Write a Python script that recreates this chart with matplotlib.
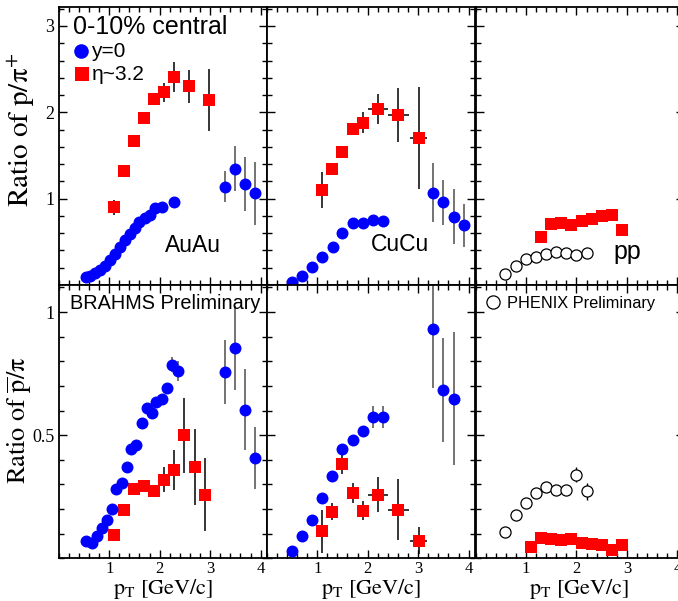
import matplotlib
matplotlib.use("Agg")
import matplotlib.pyplot as plt
from matplotlib.ticker import MultipleLocator

# ---- top row: p/pi+ ----
au_y0_pt = [0.54, 0.62, 0.72, 0.81, 0.91, 1.01, 1.11, 1.21, 1.31, 1.41, 1.51, 1.60, 1.70, 1.80, 1.90, 2.05, 2.29,
            3.29, 3.49, 3.69, 3.89]
au_y0_r = [0.095, 0.107, 0.134, 0.17, 0.215, 0.29, 0.36, 0.435, 0.52, 0.59, 0.655, 0.73, 0.775, 0.81, 0.89, 0.90, 0.96,
           1.14, 1.345, 1.17, 1.06]
au_y0_err = [0] * 17 + [0.18, 0.26, 0.31, 0.37]

au_eta_pt = [1.10, 1.29, 1.49, 1.69, 1.89, 2.09, 2.29, 2.59, 2.98]
au_eta_r = [0.90, 1.32, 1.665, 1.93, 2.15, 2.23, 2.41, 2.30, 2.14]
au_eta_err = [0.09, 0, 0, 0, 0, 0.11, 0.17, 0.19, 0.36]
au_eta_xerr = [0, 0, 0, 0, 0, 0, 0, 0.1, 0.1]

cu_y0_pt = [0.50, 0.70, 0.90, 1.10, 1.31, 1.50, 1.71, 1.91, 2.11, 2.31, 3.30, 3.50, 3.71, 3.91]
cu_y0_r = [0.04, 0.107, 0.21, 0.32, 0.445, 0.60, 0.72, 0.72, 0.75, 0.745, 1.07, 0.96, 0.79, 0.69]
cu_y0_err = [0] * 10 + [0.34, 0.26, 0.32, 0.25]

cu_eta_pt = [1.10, 1.30, 1.50, 1.70, 1.91, 2.20, 2.61, 3.01]
cu_eta_r = [1.10, 1.34, 1.545, 1.81, 1.88, 2.04, 1.97, 1.70]
cu_eta_err = [0.21, 0, 0, 0.05, 0.125, 0.17, 0.31, 0.59]
cu_eta_xerr = [0, 0, 0, 0, 0, 0.2, 0.2, 0.17]

pp_phenix_pt = [0.59, 0.80, 1.00, 1.20, 1.40, 1.60, 1.80, 2.00, 2.20]
pp_phenix_r = [0.13, 0.215, 0.30, 0.33, 0.36, 0.385, 0.37, 0.35, 0.375]

pp_eta_pt = [1.3, 1.5, 1.7, 1.9, 2.1, 2.3, 2.5, 2.7, 2.9]
pp_eta_r = [0.56, 0.71, 0.72, 0.70, 0.74, 0.77, 0.80, 0.81, 0.64]

# ---- bottom row: pbar/pi- ----
au_y0_pt_b = [0.55, 0.66, 0.75, 0.85, 0.95, 1.05, 1.14, 1.25, 1.35, 1.44, 1.54, 1.65, 1.74, 1.85, 1.93, 2.04, 2.14,
              2.25, 2.36, 3.29, 3.49, 3.69, 3.89]
au_y0_r_b = [0.069, 0.063, 0.09, 0.124, 0.157, 0.20, 0.282, 0.304, 0.37, 0.442, 0.462, 0.55, 0.611, 0.591, 0.634,
             0.645, 0.693, 0.787, 0.76, 0.756, 0.855, 0.604, 0.408]
au_y0_err_b = [0] * 17 + [0.03, 0.04, 0.13, 0.17, 0.165, 0.127]

au_eta_pt_b = [1.10, 1.29, 1.49, 1.69, 1.89, 2.09, 2.29, 2.49, 2.69, 2.89]
au_eta_r_b = [0.093, 0.198, 0.282, 0.293, 0.272, 0.32, 0.358, 0.499, 0.37, 0.259]
au_eta_err_b = [0, 0, 0, 0.02, 0.025, 0.05, 0.08, 0.153, 0.155, 0.149]

cu_y0_pt_b = [0.50, 0.70, 0.90, 1.10, 1.30, 1.50, 1.70, 1.91, 2.11, 2.31, 3.30, 3.50, 3.71]
cu_y0_r_b = [0.028, 0.092, 0.154, 0.243, 0.336, 0.445, 0.48, 0.516, 0.573, 0.573, 0.932, 0.684, 0.649]
cu_y0_err_b = [0] * 8 + [0.044, 0.044, 0.24, 0.212, 0.27]

cu_eta_pt_b = [1.10, 1.30, 1.50, 1.70, 1.91, 2.20, 2.61, 3.01]
cu_eta_r_b = [0.11, 0.19, 0.381, 0.266, 0.194, 0.259, 0.198, 0.072]
cu_eta_err_b = [0.087, 0.035, 0.04, 0.04, 0.04, 0.07, 0.123, 0.056]
cu_eta_xerr_b = [0, 0, 0, 0, 0, 0.2, 0.2, 0.17]

pp_phenix_pt_b = [0.59, 0.80, 1.00, 1.20, 1.40, 1.60, 1.80, 2.00, 2.20]
pp_phenix_r_b = [0.107, 0.174, 0.225, 0.266, 0.29, 0.276, 0.276, 0.34, 0.272]
pp_phenix_err_b = [0, 0, 0, 0, 0, 0, 0, 0.03, 0.035]

pp_eta_pt_b = [1.1, 1.3, 1.5, 1.7, 1.9, 2.1, 2.3, 2.5, 2.7, 2.9]
pp_eta_r_b = [0.047, 0.081, 0.079, 0.076, 0.08, 0.064, 0.059, 0.052, 0.035, 0.054]

BLUE = "#0000ff"
RED = "#ff0000"

plt.rcParams["font.family"] = ["Liberation Serif", "DejaVu Serif"]
plt.rcParams["mathtext.fontset"] = "stix"

W, H = 678, 601
fig = plt.figure(figsize=(W / 100, H / 100), dpi=100)

col_left = [58.7, 266.7, 475.5]
col_w = 208.0
rows = [(7, 285), (285, 558.3)]

axes = []
for r, (ytop, ybot) in enumerate(rows):
    row = []
    for c, x0 in enumerate(col_left):
        ax = fig.add_axes([x0 / W, 1 - ybot / H, col_w / W, (ybot - ytop) / H])
        ax.set_xlim(0, 4.12)
        if r == 0:
            ax.set_ylim(0, 3.22)
            ax.set_yticks([1, 2, 3])
            ax.yaxis.set_minor_locator(MultipleLocator(0.2))
        else:
            ax.set_ylim(0, 1.11)
            ax.set_yticks([0.5, 1.0])
            ax.set_yticklabels(["0.5", "1"])
            ax.yaxis.set_minor_locator(MultipleLocator(0.1))
        ax.set_xticks([1, 2, 3, 4])
        ax.xaxis.set_minor_locator(MultipleLocator(0.2))
        ax.tick_params(which="both", direction="in", top=True, right=True, width=1.0)
        ax.tick_params(which="major", length=6)
        ax.tick_params(which="minor", length=3.5)
        ax.tick_params(axis="y", labelsize=13, pad=3)
        ax.tick_params(axis="x", labelsize=12, pad=2)
        if r == 0:
            ax.tick_params(labelbottom=False)
        if c > 0:
            ax.tick_params(labelleft=False)
        for s in ax.spines.values():
            s.set_linewidth(1.3)
        row.append(ax)
    axes.append(row)


def pts(ax, x, y, color, marker, yerr=None, xerr=None, ecolor="black", ms=8.6):
    if yerr is not None or xerr is not None:
        ax.errorbar(x, y, yerr=yerr, xerr=xerr, fmt="none", ecolor=ecolor, elinewidth=1.1, capsize=0, zorder=2)
    ax.plot(x, y, linestyle="none", marker=marker, color=color, markersize=ms, markeredgewidth=0, zorder=3)


def open_pts(ax, x, y, yerr=None):
    if yerr is not None:
        ax.errorbar(x, y, yerr=yerr, fmt="none", ecolor="black", elinewidth=1.0, capsize=0, zorder=2)
    ax.plot(x, y, linestyle="none", marker="o", markerfacecolor="white", markeredgecolor="black",
            markersize=8.0, markeredgewidth=0.9, zorder=3)


# top row
ax = axes[0][0]
pts(ax, au_eta_pt, au_eta_r, RED, "s", yerr=au_eta_err, xerr=au_eta_xerr, ms=9)
pts(ax, au_y0_pt, au_y0_r, BLUE, "o", yerr=au_y0_err, ecolor="0.3")
ax = axes[0][1]
pts(ax, cu_eta_pt, cu_eta_r, RED, "s", yerr=cu_eta_err, xerr=cu_eta_xerr, ms=9)
pts(ax, cu_y0_pt, cu_y0_r, BLUE, "o", yerr=cu_y0_err, ecolor="0.3")
ax = axes[0][2]
pts(ax, pp_eta_pt, pp_eta_r, RED, "s", ms=9)
open_pts(ax, pp_phenix_pt, pp_phenix_r)

# bottom row
ax = axes[1][0]
pts(ax, au_eta_pt_b, au_eta_r_b, RED, "s", yerr=au_eta_err_b, ms=9)
pts(ax, au_y0_pt_b, au_y0_r_b, BLUE, "o", yerr=au_y0_err_b, ecolor="0.3")
ax = axes[1][1]
pts(ax, cu_eta_pt_b, cu_eta_r_b, RED, "s", yerr=cu_eta_err_b, xerr=cu_eta_xerr_b, ms=9)
pts(ax, cu_y0_pt_b, cu_y0_r_b, BLUE, "o", yerr=cu_y0_err_b, ecolor="0.3")
ax = axes[1][2]
pts(ax, pp_eta_pt_b, pp_eta_r_b, RED, "s", ms=9)
open_pts(ax, pp_phenix_pt_b, pp_phenix_r_b, yerr=pp_phenix_err_b)

for ax in axes[1]:
    ax.set_xlabel(r"$\rm p_{T}\ [GeV/c]$", fontsize=16, labelpad=0)

sans = "Liberation Sans"
ax = axes[0][0]
ax.text(0.28, 2.91, "0-10% central", fontfamily=sans, fontsize=18, va="baseline")
ax.plot([0.45], [2.71], "o", color=BLUE, markersize=10.5, markeredgewidth=0)
ax.text(0.65, 2.64, "y=0", fontfamily=sans, fontsize=15, va="baseline")
ax.plot([0.47], [2.44], "s", color=RED, markersize=10.5, markeredgewidth=0)
ax.text(0.65, 2.38, "η~3.2", fontfamily=sans, fontsize=15, va="baseline")
ax.text(2.66, 0.377, "AuAu", fontfamily=sans, fontsize=16.5, ha="center", va="baseline")
axes[0][1].text(2.64, 0.389, "CuCu", fontfamily=sans, fontsize=16.5, ha="center", va="baseline")
axes[0][2].text(3.0, 0.30, "pp", fontfamily=sans, fontsize=18, ha="center", va="baseline")

axes[1][0].text(0.22, 1.011, "BRAHMS Preliminary", fontfamily=sans, fontsize=14.3, va="baseline")
axes[1][2].plot([0.34], [1.04], "o", markerfacecolor="white", markeredgecolor="black",
                markersize=9.5, markeredgewidth=0.9)
axes[1][2].text(0.63, 1.018, "PHENIX Preliminary", fontfamily=sans, fontsize=11.8, va="baseline")

fig.text(22 / W, 1 - 130 / H, r"$\rm Ratio\ of\ p/\pi^{+}$", rotation=90, fontsize=21,
         ha="center", va="center")
fig.text(20 / W, 1 - 420 / H, r"$\rm Ratio\ of\ \overline{p}/\pi$", rotation=90, fontsize=19,
         ha="center", va="center")

fig.savefig("out.png", dpi=100)
